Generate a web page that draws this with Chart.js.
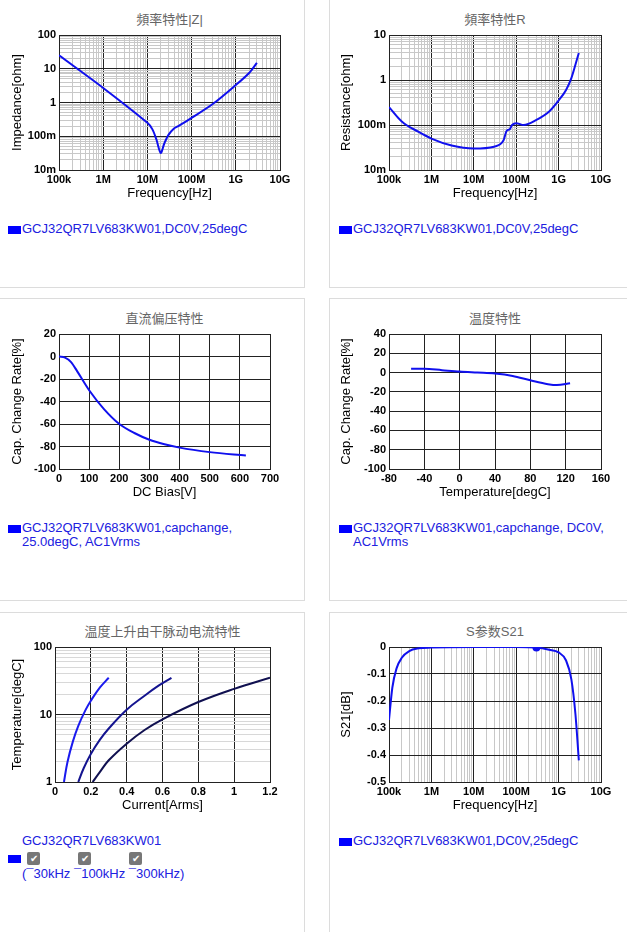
<!DOCTYPE html>
<html><head><meta charset="utf-8">
<script src="https://cdn.jsdelivr.net/npm/chart.js@4.4.1/dist/chart.umd.min.js"></script>
<style>
body{margin:0;width:627px;height:932px;position:relative;background:#fff;font-family:"Liberation Sans",Arial,sans-serif;overflow:hidden}
.bx{position:absolute}
.line{position:absolute;background:#dcdcdc}
.ttl{position:absolute;color:#666;font-size:13px;text-align:center;font-family:"Liberation Sans","Noto Sans CJK SC",sans-serif}
.leg{position:absolute;color:#2020e0;font-size:13px;line-height:14px}
.leg i{position:absolute;left:-14px;top:4px;width:13px;height:8px;background:#0000ff}
.cb{display:inline-block;width:13px;height:13px;background:#777;border-radius:2px;color:#fff;font-size:10px;line-height:13px;text-align:center;margin-right:38px}
</style></head><body>
<div class="line" style="left:304px;top:0;width:1px;height:287px"></div>
<div class="line" style="left:0;top:287px;width:305px;height:1px"></div>
<div class="line" style="left:329px;top:0;width:1px;height:287px"></div>
<div class="line" style="left:329px;top:287px;width:298px;height:1px"></div>
<div class="line" style="left:0;top:298px;width:305px;height:1px"></div>
<div class="line" style="left:304px;top:298px;width:1px;height:303px"></div>
<div class="line" style="left:0;top:600px;width:305px;height:1px"></div>
<div class="line" style="left:329px;top:298px;width:298px;height:1px"></div>
<div class="line" style="left:329px;top:298px;width:1px;height:303px"></div>
<div class="line" style="left:329px;top:600px;width:298px;height:1px"></div>
<div class="line" style="left:0;top:612px;width:305px;height:1px"></div>
<div class="line" style="left:304px;top:612px;width:1px;height:320px"></div>
<div class="line" style="left:329px;top:612px;width:298px;height:1px"></div>
<div class="line" style="left:329px;top:612px;width:1px;height:320px"></div>

<div class="ttl" style="left:59px;width:221px;top:9px">頻率特性|Z|</div>
<div class="ttl" style="left:389px;width:212px;top:9px">頻率特性R</div>
<div class="ttl" style="left:59px;width:211px;top:308px">直流偏压特性</div>
<div class="ttl" style="left:389px;width:212px;top:308px">温度特性</div>
<div class="ttl" style="left:55px;width:215px;top:621px">温度上升由干脉动电流特性</div>
<div class="ttl" style="left:389px;width:212px;top:621px">S参数S21</div>

<div class="leg" style="left:22px;top:222px"><i></i>GCJ32QR7LV683KW01,DC0V,25degC</div>
<div class="leg" style="left:353px;top:222px"><i></i>GCJ32QR7LV683KW01,DC0V,25degC</div>
<div class="leg" style="left:22px;top:521px"><i></i>GCJ32QR7LV683KW01,capchange,<br>25.0degC, AC1Vrms</div>
<div class="leg" style="left:353px;top:521px"><i></i>GCJ32QR7LV683KW01,capchange, DC0V,<br>AC1Vrms</div>
<div class="leg" style="left:22px;top:834px">GCJ32QR7LV683KW01</div>
<div class="leg" style="left:27px;top:851px"><i style="top:4px;left:-19px"></i><span class="cb">✔</span><span class="cb">✔</span><span class="cb">✔</span></div>
<div class="leg" style="left:22px;top:867px">(¯30kHz ¯100kHz ¯300kHz)</div>
<div class="leg" style="left:353px;top:834px"><i></i>GCJ32QR7LV683KW01,DC0V,25degC</div>

<div class="bx" style="left:0;top:0;width:300px;height:201px"><canvas id="c1"></canvas></div>
<div class="bx" style="left:329px;top:0;width:298px;height:201px"><canvas id="c2"></canvas></div>
<div class="bx" style="left:0;top:298px;width:300px;height:202px"><canvas id="c3"></canvas></div>
<div class="bx" style="left:329px;top:298px;width:298px;height:202px"><canvas id="c4"></canvas></div>
<div class="bx" style="left:0;top:612px;width:300px;height:201px"><canvas id="c5"></canvas></div>
<div class="bx" style="left:329px;top:612px;width:298px;height:201px"><canvas id="c6"></canvas></div>
<script>
// data
const zFreq = [1e5, 1e6, 1e7, 1.3e7, 1.6e7, 2e7, 2.4e7, 3e7, 4e7, 5e7, 1e8, 3e8, 1e9, 2e9, 3e9];
const zImp = [25, 2.7, 0.25, 0.16, 0.08, 0.032, 0.06, 0.11, 0.17, 0.2, 0.35, 0.9, 3.3, 7.5, 15];
const rFreq = [1e5, 2e5, 5e5, 1e6, 3e6, 1e7, 3e7, 5e7, 6e7, 7e7, 8e7, 1e8, 1.5e8, 3e8, 6e8, 1e9, 1.5e9, 2e9, 2.5e9, 3e9];
const rRes = [0.25, 0.12, 0.07, 0.05, 0.035, 0.03, 0.033, 0.045, 0.075, 0.08, 0.1, 0.11, 0.1, 0.13, 0.2, 0.35, 0.6, 1.1, 2.2, 4];
const dcBias = [0, 20, 40, 60, 100, 150, 200, 250, 300, 350, 400, 500, 620];
const dcRate = [0, -1, -5, -13, -30, -47, -60, -68, -74, -78, -81, -85, -88];
const tempC = [-55, -40, -20, 0, 20, 40, 60, 80, 100, 110, 125];
const tempRate = [4, 4, 2.5, 1, 0, -1, -3.5, -8, -12, -13, -11];
const cur30k = [[0.05,1],[0.07,2],[0.1,4],[0.13,6.8],[0.17,11.6],[0.2,16],[0.25,25],[0.3,35]];
const cur100k = [[0.13,1],[0.16,1.6],[0.2,2.6],[0.25,4.2],[0.3,6.2],[0.4,11.8],[0.5,19],[0.58,27],[0.65,35]];
const cur300k = [[0.21,1],[0.25,1.4],[0.3,2.1],[0.4,3.7],[0.5,5.9],[0.6,8.5],[0.8,15.3],[1.0,24],[1.2,35]];
const sFreq = [1e5, 1.2e5, 1.5e5, 2e5, 3e5, 5e5, 1e6, 1e7, 1e8, 3e8, 6e8, 1e9, 1.5e9, 2e9, 2.5e9, 3e9];
const sS21 = [-0.27, -0.15, -0.08, -0.04, -0.015, -0.005, -0.002, 0, 0, -0.002, -0.01, -0.02, -0.05, -0.12, -0.25, -0.42];
const freqLabels = {1e5:'100k',1e6:'1M',1e7:'10M',1e8:'100M',1e9:'1G',1e10:'10G'};
const ohmLabels = {0.01:'10m',0.1:'100m',1:'1',10:'10',100:'100'};

Chart.defaults.font.family = '"Liberation Sans", Arial, sans-serif';
Chart.defaults.color = '#000';

function logTicks(min, max) {
  const t = [];
  for (let d = min; d < max * 1.0001; d *= 10) {
    for (let m = 1; m < 10; m++) { const v = d * m; if (v <= max * 1.0001) t.push({value: v, major: m === 1}); }
  }
  return t;
}
function pts(xs, ys) { return xs.map((x, i) => ({x: x, y: ys[i]})); }
function gridCol(ctx) { return ctx.tick && ctx.tick.major ? '#222' : '#c8c8c8'; }

function axis(o) {
  const a = {
    type: o.type || 'linear', min: o.min, max: o.max,
    title: {display: !!o.title, text: o.title, font: {size: 13}, padding: 0, color: '#000'},
    grid: {color: o.grid || '#222', drawTicks: false, lineWidth: 1},
    border: {color: '#222'},
    ticks: {font: {size: 11, weight: 'bold'}, padding: 3, autoSkip: false, maxRotation: 0,
      callback: o.cb || (v => v), stepSize: o.step},
    afterFit: o.fit
  };
  if (o.type === 'logarithmic') a.afterBuildTicks = s => { s.ticks = logTicks(o.min, o.max); };
  return a;
}

function make(id, box, plot, data, xo, yo) {
  xo.fit = s => { s.height = box.h - plot.b; };
  yo.fit = s => { s.width = plot.l - 10; };
  return new Chart(document.getElementById(id), {
    type: 'line',
    data: {datasets: data.map(d => Object.assign({borderWidth: 2, pointRadius: 0, tension: 0.4, cubicInterpolationMode: 'monotone', fill: false}, d))},
    options: {
      responsive: true, maintainAspectRatio: false, animation: false,
      layout: {padding: {top: plot.t, right: box.w - plot.r, left: 10, bottom: 0}},
      plugins: {legend: {display: false}, tooltip: {enabled: false}},
      scales: {x: axis(xo), y: axis(yo)}
    }
  });
}

make('c1', {w: 300, h: 201}, {l: 59, r: 280, t: 35, b: 170},
  [{data: pts(zFreq, zImp), borderColor: '#1010ee', cubicInterpolationMode: 'default', tension: 0.3}],
  {type: 'logarithmic', min: 1e5, max: 1e10, title: 'Frequency[Hz]', grid: gridCol, cb: v => freqLabels[v] || ''},
  {type: 'logarithmic', min: 0.01, max: 100, title: 'Impedance[ohm]', grid: gridCol, cb: v => ohmLabels[v] || ''});

make('c2', {w: 298, h: 201}, {l: 60, r: 272, t: 35, b: 170},
  [{data: pts(rFreq, rRes), borderColor: '#1010ee'}],
  {type: 'logarithmic', min: 1e5, max: 1e10, title: 'Frequency[Hz]', grid: gridCol, cb: v => freqLabels[v] || ''},
  {type: 'logarithmic', min: 0.01, max: 10, title: 'Resistance[ohm]', grid: gridCol, cb: v => ohmLabels[v] || ''});

make('c3', {w: 300, h: 202}, {l: 59, r: 270, t: 36, b: 171},
  [{data: pts(dcBias, dcRate), borderColor: '#1010ee'}],
  {min: 0, max: 700, step: 100, title: 'DC Bias[V]'},
  {min: -100, max: 20, step: 20, title: 'Cap. Change Rate[%]'});

make('c4', {w: 298, h: 202}, {l: 60, r: 272, t: 36, b: 171},
  [{data: pts(tempC, tempRate), borderColor: '#1010ee'}],
  {min: -80, max: 160, step: 40, title: 'Temperature[degC]'},
  {min: -100, max: 40, step: 20, title: 'Cap. Change Rate[%]'});

make('c5', {w: 300, h: 201}, {l: 55, r: 270, t: 35, b: 170},
  [{data: cur30k.map(p => ({x: p[0], y: p[1]})), borderColor: '#1a1aee', cubicInterpolationMode: 'default'},
   {data: cur100k.map(p => ({x: p[0], y: p[1]})), borderColor: '#141490', cubicInterpolationMode: 'default'},
   {data: cur300k.map(p => ({x: p[0], y: p[1]})), borderColor: '#101050', cubicInterpolationMode: 'default'}],
  {min: 0, max: 1.2, step: 0.2, title: 'Current[Arms]', cb: v => +v.toFixed(1)},
  {type: 'logarithmic', min: 1, max: 100, title: 'Temperature[degC]', grid: c => c.tick && c.tick.major ? '#222' : '#d8d8d8', cb: v => ({1:'1',10:'10',100:'100'})[v] || ''});

make('c6', {w: 298, h: 201}, {l: 60, r: 272, t: 35, b: 170},
  [{data: pts(sFreq, sS21), borderColor: '#1010ee',
    pointRadius: sFreq.map(f => f === 3e8 ? 3 : 0), pointBackgroundColor: '#1010ee'}],
  {type: 'logarithmic', min: 1e5, max: 1e10, title: 'Frequency[Hz]', grid: gridCol, cb: v => freqLabels[v] || ''},
  {min: -0.5, max: 0, step: 0.1, title: 'S21[dB]', cb: v => v === 0 ? '0' : v.toFixed(1)});
</script>
</body></html>
